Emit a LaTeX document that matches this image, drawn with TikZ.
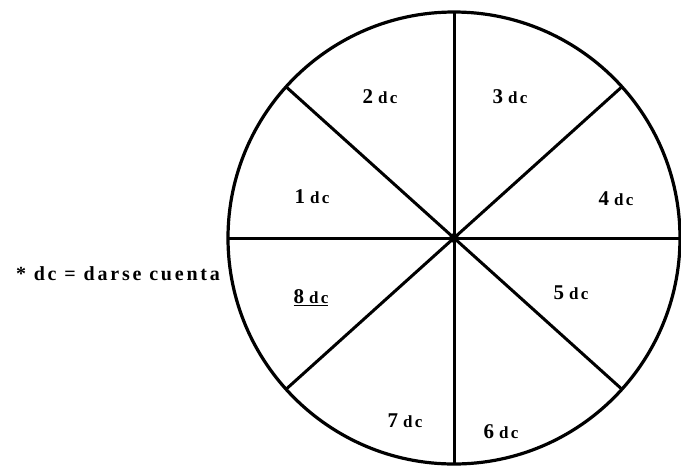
\documentclass[tikz,border=0pt]{standalone}
\usepackage{fontspec}
\setmainfont{Liberation Serif}
\newfontfamily\dcfont{Liberation Serif}[LetterSpace=14]
\usetikzlibrary{positioning}

\newcommand{\dcnum}[1]{{\fontsize{21}{23}\selectfont #1}\hspace{5pt}{\fontsize{17}{19}\selectfont dc}}

\begin{document}
\begin{tikzpicture}[x=1pt, y=-1pt,
      rim/.style={line width=3.2pt},
      spoke/.style={line width=3pt},
      lbl/.style={font=\dcfont\bfseries, inner sep=1pt},
      note/.style={font=\dcfont\bfseries\fontsize{20}{22}\selectfont, inner sep=1pt}
    ]
    \useasboundingbox (0,0) rectangle (681,467);

    % Wheel
    \coordinate (hub) at (454,238);
    \draw[rim] (hub) circle[radius=226];
    \foreach \a in {0,90,180,270,42,138,222,318}
      \draw[spoke] (hub) -- ++(\a:226);
    \fill (hub) circle[radius=5];

    % Sectors
    \node[lbl] (s2) at (380,97)  {\dcnum{2}};
    \node[lbl] (s3) at (510,97)  {\dcnum{3}};
    \node[lbl] (s1) at (312,197) {\dcnum{1}};
    \node[lbl] (s4) at (616,199) {\dcnum{4}};
    \node[lbl] (s5) at (571,293) {\dcnum{5}};
    \node[lbl] (s8) at (311,298) {\underline{\dcnum{8}}};
    \node[lbl] (s7) at (405,421) {\dcnum{7}};
    \node[lbl] (s6) at (501,432) {\dcnum{6}};

    % Legend
    \node[note] (key) at (118,274) {* dc = darse cuenta};
  \end{tikzpicture}
\end{document}
